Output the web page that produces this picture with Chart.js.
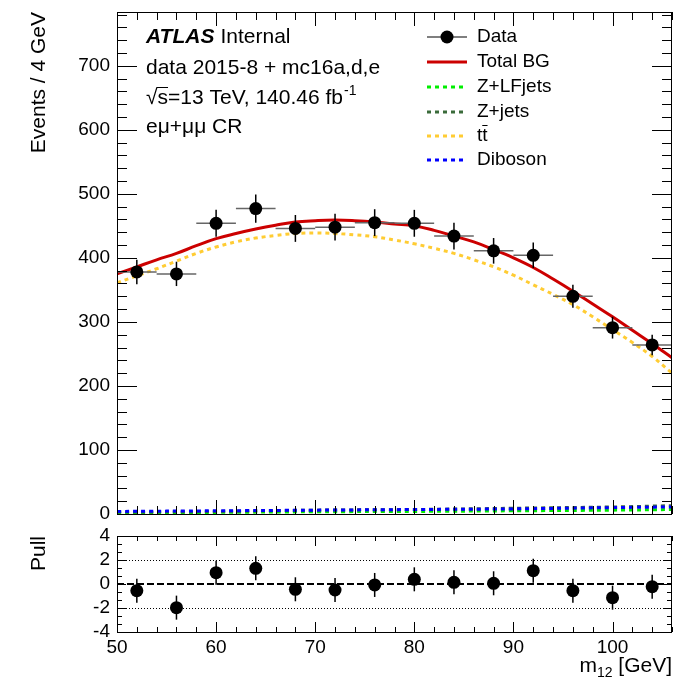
<!DOCTYPE html>
<html>
<head>
<meta charset="utf-8">
<script src="https://cdn.jsdelivr.net/npm/chart.js@4.4.1/dist/chart.umd.min.js"></script>
<style>
  body { margin: 0; background: #fff; }
  #wrap { position: relative; width: 692px; height: 683px; background: #fff; }
  canvas { position: absolute; left: 0; }
</style>
</head>
<body>
<div id="wrap">
  <canvas id="main" width="692" height="525" style="top:0"></canvas>
  <canvas id="pull" width="692" height="158" style="top:525px"></canvas>
</div>
<script>
const FONT = "'Liberation Sans', Arial, Helvetica, sans-serif";

// data, 4 GeV bins
const binCenters = [52, 56, 60, 64, 68, 72, 76, 80, 84, 88, 92, 96, 100, 104];
const dataCounts = [378, 375, 454, 477, 446, 448, 455, 454, 434, 411, 404, 340, 291, 264];
const dataErrors = [19, 19, 21, 22, 21, 21, 21, 21, 21, 20, 20, 18, 17, 16];
const binHalfWidth = 2;

// background shapes
const curveX = [50, 52, 54, 56, 58, 60, 62, 64, 66, 68, 70, 72, 74, 76, 78,
                80, 82, 84, 86, 88, 90, 92, 94, 96, 98, 100, 102, 104, 106];
const totalBG = [375, 386, 397, 407, 419, 430, 438, 445, 451, 456, 458, 459, 458, 456, 453,
                 450, 443, 434, 425, 413, 400, 385, 367, 348, 328, 308, 287, 266, 244];
const ttbar = [361, 372, 383, 395, 407, 417, 425, 431, 435, 438, 439, 438, 436, 433, 428,
               422, 415, 407, 397, 386, 373, 358, 343, 327, 308, 288, 268, 246, 220];
const smallX = [50, 60, 70, 80, 90, 100, 106];
const zlfJets = [1.5, 2.5, 3.5, 4, 5, 6, 7];
const zJets = [3, 4, 6, 7, 9, 11, 13];
const diboson = [4, 5, 6, 7, 8, 10, 11];

// pull panel
const pulls = [-0.56, -1.97, 0.94, 1.31, -0.44, -0.5, -0.08, 0.39, 0.14, 0.06, 1.11, -0.56, -1.14, -0.22];
const pullErrors = [1, 1, 1, 1, 1, 1, 1, 1, 1, 1, 1, 1, 1, 1];

// tick labels
const xTickLabels = [50, 60, 70, 80, 90, 100];
const yMainTicks = [0, 100, 200, 300, 400, 500, 600, 700];
const yPullTicks = [-4, -2, 0, 2, 4];

const pts = (xs, ys) => xs.map((x, i) => ({ x: x, y: ys[i] }));

function curve(label, xs, ys, color, dash) {
  return {
    label: label,
    data: pts(xs, ys),
    borderColor: color,
    borderWidth: 3,
    borderDash: dash || [],
    pointRadius: 0,
    tension: 0.4,
    fill: false
  };
}

// keep the frame where ROOT put it: no extra room for half tick labels
function noPad(s) {
  s.paddingTop = 0; s.paddingBottom = 0;
  s.paddingLeft = 0; s.paddingRight = 0;
}

// ROOT-like frame with inward ticks on all four sides
function drawFrame(chart, o) {
  const { ctx, chartArea: a, scales } = chart;
  ctx.save();
  ctx.strokeStyle = '#000';
  ctx.lineWidth = 1;
  ctx.beginPath();
  for (let v = 50; v <= 106.001; v += 2) {
    const px = Math.round(scales.x.getPixelForValue(v)) + 0.5;
    const len = (v % 10 === 0) ? o.xMajor : o.xMinor;
    ctx.moveTo(px, a.bottom); ctx.lineTo(px, a.bottom - len);
    ctx.moveTo(px, a.top); ctx.lineTo(px, a.top + len);
  }
  for (let i = 0; ; i++) {
    const v = o.yStart + i * o.yMinorStep;
    if (v > scales.y.max + 1e-6) break;
    const py = Math.round(scales.y.getPixelForValue(v)) + 0.5;
    const major = Math.abs(v / o.yMajorStep - Math.round(v / o.yMajorStep)) < 1e-6;
    const len = major ? o.yMajor : o.yMinor;
    ctx.moveTo(a.left, py); ctx.lineTo(a.left + len, py);
    ctx.moveTo(a.right, py); ctx.lineTo(a.right - len, py);
  }
  ctx.stroke();
  ctx.strokeRect(a.left + 0.5, a.top + 0.5, a.right - a.left - 1, a.bottom - a.top);
  ctx.restore();
}

function vTitle(ctx, text, x, yTop) {
  ctx.save();
  ctx.translate(x, yTop);
  ctx.rotate(-Math.PI / 2);
  ctx.font = '21px ' + FONT;
  ctx.fillStyle = '#000';
  ctx.textAlign = 'right';
  ctx.textBaseline = 'middle';
  ctx.fillText(text, 0, 0);
  ctx.restore();
}

const mainDecor = {
  id: 'mainDecor',
  beforeDatasetDraw(chart, args) {
    if (args.index !== 0) return;
    const { ctx, scales: { x, y } } = chart;
    ctx.save();
    binCenters.forEach((c, i) => {
      const py = y.getPixelForValue(dataCounts[i]);
      ctx.strokeStyle = '#666';
      ctx.lineWidth = 1.5;
      ctx.beginPath();
      ctx.moveTo(x.getPixelForValue(c - binHalfWidth), py);
      ctx.lineTo(x.getPixelForValue(c + binHalfWidth), py);
      ctx.stroke();
      ctx.strokeStyle = '#000';
      ctx.beginPath();
      ctx.moveTo(x.getPixelForValue(c), y.getPixelForValue(dataCounts[i] - dataErrors[i]));
      ctx.lineTo(x.getPixelForValue(c), y.getPixelForValue(dataCounts[i] + dataErrors[i]));
      ctx.stroke();
    });
    ctx.restore();
  },
  afterDraw(chart) {
    const ctx = chart.ctx;
    drawFrame(chart, { xMajor: 14, xMinor: 8, yStart: 0, yMinorStep: 20, yMajorStep: 100, yMajor: 20, yMinor: 10 });
    vTitle(ctx, 'Events / 4 GeV', 39, 12);

    ctx.save();
    ctx.fillStyle = '#000';
    ctx.textBaseline = 'middle';
    ctx.textAlign = 'left';
    // ATLAS label block
    ctx.font = 'italic bold 21px ' + FONT;
    ctx.fillText('ATLAS', 146, 37);
    const w = ctx.measureText('ATLAS').width;
    ctx.font = '21px ' + FONT;
    ctx.fillText('Internal', 146 + w + 6, 37);
    ctx.fillText('data 2015-8 + mc16a,d,e', 146, 68);
    const sq = ctx.measureText('\u221A').width;
    ctx.fillText('\u221A', 146, 98);
    ctx.fillText('s=13 TeV, 140.46 fb', 146 + sq, 98);
    const sw = ctx.measureText('s').width;
    ctx.lineWidth = 1;
    ctx.beginPath();
    ctx.moveTo(146 + sq - 1, 87.5); ctx.lineTo(146 + sq + sw, 87.5);
    ctx.stroke();
    const tw = ctx.measureText('s=13 TeV, 140.46 fb').width;
    ctx.font = '14px ' + FONT;
    ctx.fillText('-1', 146 + sq + tw + 1, 91);
    ctx.font = '21px ' + FONT;
    ctx.fillText('e\u03BC+\u03BC\u03BC CR', 146, 127);

    // legend
    const lx0 = 427, lx1 = 467, tx = 477;
    const rows = [37, 62, 87, 112, 136, 160];
    ctx.font = '19px ' + FONT;
    ctx.strokeStyle = '#555';
    ctx.lineWidth = 1.5;
    ctx.beginPath(); ctx.moveTo(lx0, rows[0]); ctx.lineTo(lx1, rows[0]); ctx.stroke();
    ctx.fillStyle = '#000';
    ctx.beginPath(); ctx.arc((lx0 + lx1) / 2, rows[0], 6.5, 0, Math.PI * 2); ctx.fill();
    ctx.fillText('Data', tx, rows[0]);
    const legLines = [
      ['Total BG', '#cc0000', []],
      ['Z+LFjets', '#00ee00', [4, 4]],
      ['Z+jets', '#3a6b3a', [4, 4]],
      ['tt', '#ffcc33', [4, 4]],
      ['Diboson', '#0000ff', [4, 4]]
    ];
    legLines.forEach((l, i) => {
      const ry = rows[i + 1];
      ctx.save();
      ctx.strokeStyle = l[1];
      ctx.lineWidth = 3;
      ctx.setLineDash(l[2]);
      ctx.beginPath(); ctx.moveTo(lx0, ry); ctx.lineTo(lx1, ry); ctx.stroke();
      ctx.restore();
      ctx.fillText(l[0], tx, ry);
      if (l[0] === 'tt') {
        const t1 = ctx.measureText('t').width;
        ctx.lineWidth = 1;
        ctx.strokeStyle = '#000';
        ctx.beginPath();
        ctx.moveTo(tx + t1, ry - 10.5); ctx.lineTo(tx + 2 * t1, ry - 10.5);
        ctx.stroke();
      }
    });
    ctx.restore();
  }
};

new Chart(document.getElementById('main'), {
  type: 'line',
  data: {
    datasets: [
      {
        label: 'Data',
        data: pts(binCenters, dataCounts),
        showLine: false,
        pointRadius: 6.5,
        pointBackgroundColor: '#000',
        pointBorderWidth: 0,
        borderColor: '#000'
      },
      curve('Total BG', curveX, totalBG, '#cc0000'),
      curve('ttbar', curveX, ttbar, '#ffcc33', [4, 4]),
      curve('Diboson', smallX, diboson, '#0000ff', [4, 4]),
      curve('Z+jets', smallX, zJets, '#3a6b3a', [4, 4]),
      curve('Z+LFjets', smallX, zlfJets, '#00ee00', [4, 4])
    ]
  },
  options: {
    responsive: false,
    animation: false,
    layout: { padding: { left: 0, right: 20, top: 12, bottom: 11 } },
    plugins: { legend: { display: false }, tooltip: { enabled: false } },
    scales: {
      x: { type: 'linear', min: 50, max: 106, display: false },
      y: {
        type: 'linear', min: 0, max: 784,
        afterFit(s) { s.width = 117; noPad(s); },
        afterBuildTicks(s) { s.ticks = yMainTicks.map(v => ({ value: v })); },
        grid: { display: false, drawTicks: false },
        border: { display: false },
        ticks: { padding: 7, autoSkip: false, color: '#000', font: { family: FONT, size: 19 } }
      }
    }
  },
  plugins: [mainDecor]
});

const pullDecor = {
  id: 'pullDecor',
  beforeDatasetsDraw(chart) {
    const { ctx, chartArea: a, scales: { x, y } } = chart;
    ctx.save();
    ctx.strokeStyle = '#000';
    ctx.lineWidth = 1;
    ctx.setLineDash([1, 2]);
    [-2, 2].forEach(v => {
      const py = Math.round(y.getPixelForValue(v)) + 0.5;
      ctx.beginPath(); ctx.moveTo(a.left, py); ctx.lineTo(a.right, py); ctx.stroke();
    });
    ctx.lineWidth = 2;
    ctx.setLineDash([7, 3]);
    const p0 = y.getPixelForValue(0);
    ctx.beginPath(); ctx.moveTo(a.left, p0); ctx.lineTo(a.right, p0); ctx.stroke();
    ctx.setLineDash([]);
    ctx.lineWidth = 1.5;
    binCenters.forEach((c, i) => {
      const px = x.getPixelForValue(c);
      ctx.beginPath();
      ctx.moveTo(px, y.getPixelForValue(pulls[i] - pullErrors[i]));
      ctx.lineTo(px, y.getPixelForValue(pulls[i] + pullErrors[i]));
      ctx.stroke();
    });
    ctx.restore();
  },
  afterDraw(chart) {
    const ctx = chart.ctx;
    drawFrame(chart, { xMajor: 10, xMinor: 5, yStart: -4, yMinorStep: 2 / 3, yMajorStep: 2, yMajor: 9, yMinor: 5 });
    vTitle(ctx, 'Pull', 39, 11);
    // x-axis title m12 [GeV], right aligned to frame
    ctx.save();
    ctx.fillStyle = '#000';
    ctx.textBaseline = 'alphabetic';
    ctx.font = '21px ' + FONT;
    const wm = ctx.measureText('m').width;
    const wg = ctx.measureText(' [GeV]').width;
    ctx.font = '14px ' + FONT;
    const ws = ctx.measureText('12').width;
    const right = chart.chartArea.right;
    const base = 147;
    const xs = right - wg - ws - wm;
    ctx.font = '21px ' + FONT;
    ctx.fillText('m', xs, base);
    ctx.font = '14px ' + FONT;
    ctx.fillText('12', xs + wm, base + 5);
    ctx.font = '21px ' + FONT;
    ctx.fillText(' [GeV]', xs + wm + ws, base);
    ctx.restore();
  }
};

new Chart(document.getElementById('pull'), {
  type: 'line',
  data: {
    datasets: [{
      label: 'Pull',
      data: pts(binCenters, pulls),
      showLine: false,
      pointRadius: 6.5,
      pointBackgroundColor: '#000',
      pointBorderWidth: 0,
      borderColor: '#000'
    }]
  },
  options: {
    responsive: false,
    animation: false,
    layout: { padding: { left: 0, right: 20, top: 11, bottom: 0 } },
    plugins: { legend: { display: false }, tooltip: { enabled: false } },
    scales: {
      x: {
        type: 'linear', min: 50, max: 106,
        afterFit(s) { s.height = 51; noPad(s); },
        afterBuildTicks(s) { s.ticks = xTickLabels.map(v => ({ value: v })); },
        grid: { display: false, drawTicks: false },
        border: { display: false },
        ticks: { padding: 4, maxRotation: 0, autoSkip: false, color: '#000', font: { family: FONT, size: 19 } }
      },
      y: {
        type: 'linear', min: -4, max: 4,
        afterFit(s) { s.width = 117; noPad(s); },
        afterBuildTicks(s) { s.ticks = yPullTicks.map(v => ({ value: v })); },
        grid: { display: false, drawTicks: false },
        border: { display: false },
        ticks: { padding: 7, autoSkip: false, color: '#000', font: { family: FONT, size: 19 } }
      }
    }
  },
  plugins: [pullDecor]
});
</script>
</body>
</html>
